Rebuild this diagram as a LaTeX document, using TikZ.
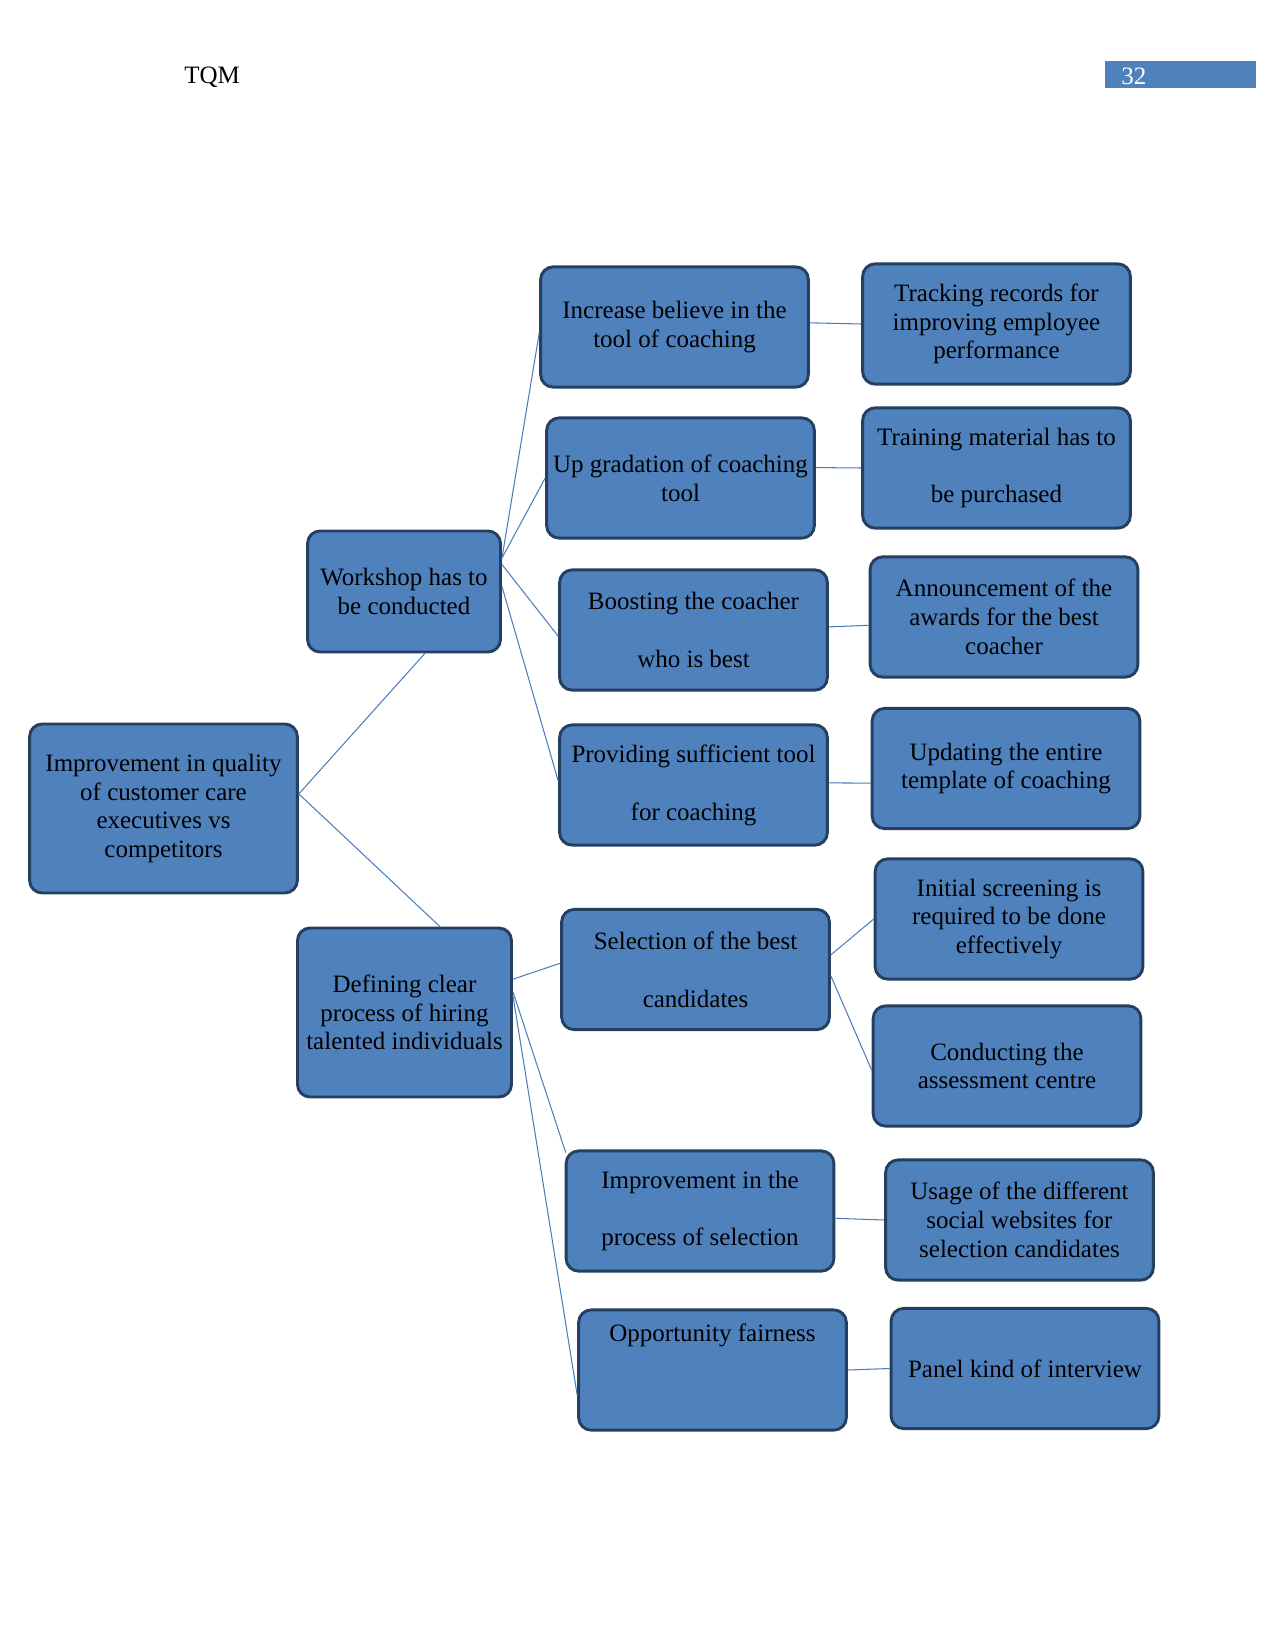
\documentclass[tikz,border=0pt]{standalone}
\usepackage{fontspec}
\setmainfont{Liberation Serif}
\usetikzlibrary{calc}
\definecolor{boxfill}{HTML}{4F81BD}
\definecolor{boxline}{HTML}{243F60}
\definecolor{conn}{HTML}{4A7EBB}
\begin{document}
\begin{tikzpicture}[x=0.48pt,y=-0.48pt,
  box/.style={draw=boxline, line width=1.4pt, fill=boxfill, rounded corners=6pt,
    minimum width=128.5pt, minimum height=57.7pt, align=center, inner sep=0pt,
    font=\fontsize{12}{13.8}\selectfont},
  conn/.style={draw=conn, line width=0.5pt},
  hdr/.style={inner sep=0pt, font=\fontsize{12}{13.8}\selectfont}]
\useasboundingbox (0,0) rectangle (1275,1651);
% header
\node[hdr, anchor=west] (tqm) at (184,77) {TQM};
\node[fill=boxfill, minimum width=72.5pt, minimum height=13pt, inner sep=0pt] (pgbox) at (1180.5,74.5) {};
\node[hdr, anchor=west, text=white] (pgnum) at (1121,76) {32};
% level 0
\node[box, minimum height=81.1pt] (root) at (163.5,808.5) {Improvement in quality\\of customer care\\executives vs\\competitors};
% level 1
\node[box, minimum width=92.6pt, minimum height=58.1pt] (work) at (404,591.5) {Workshop has to\\be conducted};
\node[box, minimum width=102.7pt, minimum height=81.1pt] (def) at (404.5,1012.5) {Defining clear\\process of hiring\\talented individuals};
% level 2
\node[box] (incr) at (674.5,327) {Increase believe in the\\tool of coaching};
\node[box] (upgr) at (680.5,478) {Up gradation of coaching\\tool};
\node[box] (boost) at (693.5,630) {Boosting the coacher\\[14pt]who is best};
\node[box] (prov) at (693.5,785) {Providing sufficient tool\\[14pt]for coaching};
\node[box] (sel) at (695.5,969.5) {Selection of the best\\[14pt]candidates};
\node[box] (impr) at (700,1211) {Improvement in the\\[14pt]process of selection};
\node[box] (opp) at (712.5,1370) {Opportunity fairness\\[22pt]\mbox{}};
% level 3
\node[box] (track) at (996.5,324) {Tracking records for\\improving employee\\performance};
\node[box] (train) at (996.5,468) {Training material has to\\[14pt]be purchased};
\node[box] (ann) at (1004,617) {Announcement of the\\awards for the best\\coacher};
\node[box] (upd) at (1006,768.5) {Updating the entire\\template of coaching};
\node[box] (init) at (1009,919) {Initial screening is\\required to be done\\effectively};
\node[box] (cond) at (1007,1066) {Conducting the\\assessment centre};
\node[box] (usage) at (1019.5,1220) {Usage of the different\\social websites for\\selection candidates};
\node[box] (panel) at (1025,1368.5) {Panel kind of interview};
% connectors
\draw[conn] ([yshift=7pt]root.east) -- ([xshift=10pt]work.south);
\draw[conn] ([yshift=7pt]root.east) -- ([xshift=17pt]def.north);
\draw[conn] ([yshift=16pt]work.east) -- ([yshift=-3pt]incr.west);
\draw[conn] ([yshift=16pt]work.east) -- (upgr.west);
\draw[conn] ([yshift=13pt]work.east) -- ([yshift=-3pt]boost.west);
\draw[conn] ([yshift=2.5pt]work.east) -- ([yshift=2pt]prov.west);
\draw[conn] ([yshift=16pt]def.east) -- ([yshift=3pt]sel.west);
\draw[conn] ([yshift=10pt]def.east) -- ([xshift=0.5pt,yshift=-1.5pt]impr.north west);
\draw[conn] ([yshift=8pt]def.east) -- ([yshift=-12pt]opp.west);
\draw[conn] ([yshift=2pt]incr.east) -- (track.west);
\draw[conn] ([yshift=5pt]upgr.east) -- (train.west);
\draw[conn] ([yshift=1.5pt]boost.east) -- ([yshift=-4pt]ann.west);
\draw[conn] ([yshift=1pt]prov.east) -- ([yshift=-7pt]upd.west);
\draw[conn] ([yshift=7pt]sel.east) -- (init.west);
\draw[conn] ([yshift=-3pt]sel.east) -- ([yshift=-2pt]cond.west);
\draw[conn] ([yshift=-3.5pt]impr.east) -- (usage.west);
\draw[conn] (opp.east) -- (panel.west);
\end{tikzpicture}
\end{document}
